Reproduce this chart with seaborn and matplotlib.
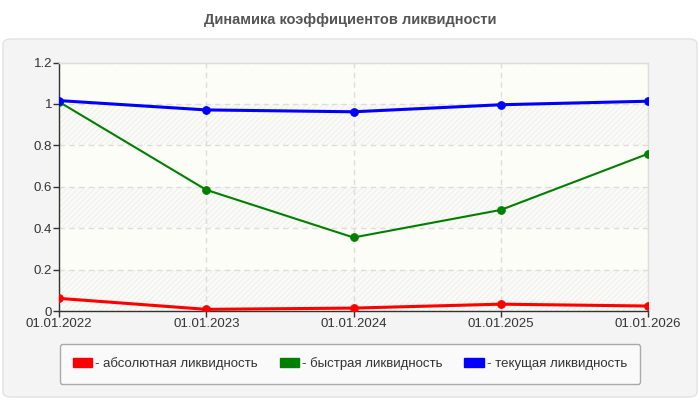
import pandas as pd
import seaborn as sns
import matplotlib.pyplot as plt
from matplotlib.patches import FancyBboxPatch, Patch

# Data
dates = ['01.01.2022', '01.01.2023', '01.01.2024', '01.01.2025', '01.01.2026']
absolute = [0.061, 0.008, 0.014, 0.033, 0.024]
quick = [1.01, 0.585, 0.355, 0.488, 0.759]
current = [1.016, 0.971, 0.962, 0.996, 1.013]
series_names = ['- абсолютная ликвидность', '- быстрая ликвидность', '- текущая ликвидность']
series_colors = ['#ff0000', '#008000', '#0000ff']
y_ticks = [0, 0.2, 0.4, 0.6, 0.8, 1, 1.2]
y_labels = ['0', '0.2', '0.4', '0.6', '0.8', '1', '1.2']

sns.set_style('white')
plt.rcParams['font.family'] = ['Liberation Sans', 'DejaVu Sans']
plt.rcParams['hatch.linewidth'] = 0.6

fig = plt.figure(figsize=(7, 4), dpi=100)
fig.patch.set_facecolor('white')

# rounded light-grey panel behind the plot
panel = FancyBboxPatch((3 / 700, 3 / 400), 694 / 700, 358 / 400,
                       boxstyle='round,pad=0,rounding_size=0.012',
                       transform=fig.transFigure, facecolor='#f4f4f4',
                       edgecolor='#e2e2e2', linewidth=1, zorder=-5)
fig.patches.append(panel)

fig.text(0.5, 1 - 20 / 400, 'Динамика коэффициентов ликвидности', ha='center', va='center',
         fontsize=10.5, fontweight='bold', color='#555555')

ax = fig.add_axes([59 / 700, 1 - 311 / 400, 589 / 700, 248.5 / 400])
ax.set_zorder(2)
ax.set_facecolor('#fdfdf7')

# alternating plain / hatched bands
for i in range(len(y_ticks) - 1):
    if i % 2 == 0:
        ax.axhspan(y_ticks[i], y_ticks[i + 1], facecolor='#fafaf6', edgecolor='#ededed',
                   hatch='//////', linewidth=0, zorder=0)

df = pd.DataFrame({'date': dates * 3,
                   'value': absolute + quick + current,
                   'series': [n for n in series_names for _ in dates]})

widths = [2.2, 1.5, 2.2]
for name, color, lw in zip(series_names, series_colors, widths):
    sns.lineplot(data=df[df['series'] == name], x='date', y='value', color=color,
                 linewidth=lw, marker='o', markersize=5.5, markeredgecolor=color,
                 ax=ax, zorder=3, sort=False)

ax.set_xlim(0, len(dates) - 1)
ax.set_ylim(0, 1.2)
ax.set_yticks(y_ticks)
ax.set_yticklabels(y_labels)
ax.set_xlabel('')
ax.set_ylabel('')
ax.grid(True, linestyle=(0, (4, 3)), color='#dddddd', linewidth=1)
ax.set_axisbelow(True)
ax.tick_params(axis='both', labelsize=9.5, colors='#333333', length=4, width=1,
               direction='out', left=True, bottom=True, pad=1)
for side in ['left', 'bottom']:
    ax.spines[side].set_color('#333333')
    ax.spines[side].set_linewidth(1)
for side in ['top', 'right']:
    ax.spines[side].set_color('#dddddd')
    ax.spines[side].set_linewidth(1)

handles = [Patch(facecolor=c, edgecolor=c) for c in series_colors]
leg = fig.legend(handles, series_names, loc='center', ncol=3,
                 bbox_to_anchor=(350 / 700, 1 - 364 / 400),
                 fontsize=9.5, frameon=True, fancybox=True, handlelength=1.45,
                 handleheight=0.7, handletextpad=0.25, borderpad=1.0,
                 columnspacing=1.65, labelcolor='#333333')
leg.get_frame().set_facecolor('#fafafa')
leg.get_frame().set_edgecolor('#aaaaaa')
leg.get_frame().set_alpha(1)

fig.savefig('out.png', dpi=100)
